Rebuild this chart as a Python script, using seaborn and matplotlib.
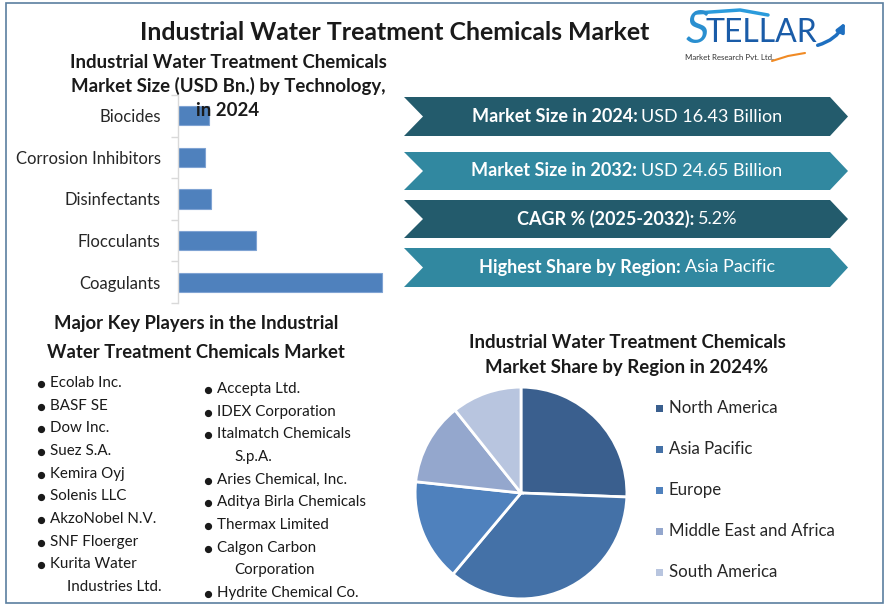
import numpy as np
import pandas as pd
import matplotlib
matplotlib.use('Agg')
import matplotlib.pyplot as plt
import seaborn as sns
from matplotlib.patches import Polygon, Rectangle

# canvas size in pixels
W, H = 889, 610

# ---- data ----
categories = ['Biocides', 'Corrosion Inhibitors', 'Disinfectants', 'Flocculants', 'Coagulants']
sizes_2024 = [1.37, 1.19, 1.46, 3.45, 8.97]   # USD Bn.

regions = ['North America', 'Asia Pacific', 'Europe', 'Middle East and Africa', 'South America']
region_share = [25.6, 35.5, 15.6, 12.6, 10.7]
region_colors = ['#3A5F8E', '#4471A7', '#4F81BD', '#94A7CD', '#B8C5DF']

banner_bold = ['Market Size in 2024:', 'Market Size in 2032:', 'CAGR % (2025-2032):', 'Highest Share by Region:']
banner_value = ['USD 16.43 Billion', 'USD 24.65 Billion', '5.2%', 'Asia Pacific']
banner_colors = ['#235B6C', '#3188A0', '#235B6C', '#3188A0']

players_left = ['Ecolab Inc.', 'BASF SE', 'Dow Inc.', 'Suez S.A.', 'Kemira Oyj', 'Solenis LLC',
                'AkzoNobel N.V.', 'SNF Floerger', 'Kurita Water\nIndustries Ltd.']
players_right = ['Accepta Ltd.', 'IDEX Corporation', 'Italmatch Chemicals\nS.p.A.', 'Aries Chemical, Inc.',
                 'Aditya Birla Chemicals', 'Thermax Limited', 'Calgon Carbon\nCorporation', 'Hydrite Chemical Co.']

sns.set_theme(style='white')
plt.rcParams['font.family'] = ['Lato', 'DejaVu Sans']

fig = plt.figure(figsize=(W / 100, H / 100), dpi=100)
fig.patch.set_facecolor('white')


def rect_px(left, top, right, bottom):
    return [left / W, 1 - bottom / H, (right - left) / W, (bottom - top) / H]


# ---- bar chart ----
ax_bar = fig.add_axes(rect_px(178, 95, 400, 303))
df_bar = pd.DataFrame({'Technology': categories, 'Size': sizes_2024})
sns.barplot(data=df_bar, x='Size', y='Technology', orient='h', color='#4F81BD', saturation=1,
            width=0.46, edgecolor='#7FA3D3', linewidth=0.8, ax=ax_bar)
ax_bar.set_xlim(0, sizes_2024[-1] * (400 - 178) / (383 - 179))
ax_bar.set_ylim(4.5, -0.5)
ax_bar.set_xlabel('')
ax_bar.set_ylabel('')
ax_bar.set_xticks([])
for s in ['top', 'right', 'bottom']:
    ax_bar.spines[s].set_visible(False)
ax_bar.spines['left'].set_color('#D9D9D9')
ax_bar.spines['left'].set_linewidth(1)
ax_bar.tick_params(axis='y', which='major', length=0, pad=12.5, labelsize=12, labelcolor='#262626')
ax_bar.set_yticks(np.arange(-0.5, 5, 1), minor=True)
ax_bar.tick_params(axis='y', which='minor', length=5, color='#D9D9D9', width=1, left=True, direction='out')
ax_bar.set_facecolor('none')

# ---- pie chart ----
ax_pie = fig.add_axes(rect_px(413, 385, 629, 601))
ax_pie.pie(region_share, colors=region_colors, startangle=90, counterclock=False,
           wedgeprops=dict(edgecolor='white', linewidth=2))
ax_pie.set_xlim(-1.02, 1.02)
ax_pie.set_ylim(-1.02, 1.02)
ax_pie.set_aspect('equal')

# ---- overlay in pixel coordinates ----
ov = fig.add_axes([0, 0, 1, 1], zorder=5)
ov.set_xlim(0, W)
ov.set_ylim(H, 0)
ov.axis('off')
ov.patch.set_alpha(0)

ov.add_patch(Rectangle((6, 3), 877, 600, fill=False, edgecolor='#5B7FA0', linewidth=1.2))

ov.text(395, 33, 'Industrial Water Treatment Chemicals Market', ha='center', va='center',
        fontsize=17.9, fontweight='bold', color='#1a1a1a')

for txt, y in zip(['Industrial Water Treatment Chemicals', 'Market Size (USD Bn.) by Technology,', 'in 2024'],
                  [62, 86, 110]):
    ov.text(228, y, txt, ha='center', va='center', fontsize=13.4, fontweight='bold', color='#1a1a1a')

for txt, y in zip(['Major Key Players in the Industrial', 'Water Treatment Chemicals Market'], [323, 352]):
    ov.text(196, y, txt, ha='center', va='center', fontsize=13.3, fontweight='bold', color='#1a1a1a')

for txt, y in zip(['Industrial Water Treatment Chemicals', 'Market Share by Region in 2024%'], [343, 367]):
    ov.text(627, y, txt, ha='center', va='center', fontsize=13.4, fontweight='bold', color='#1a1a1a')

# key players lists
step = 22.67
for items, xb, xt, y0 in [(players_left, 40.5, 50, 383), (players_right, 208, 217, 389)]:
    line = 0
    for item in items:
        parts = item.split('\n')
        y = y0 + line * step
        ov.plot(xb, y + 1, marker='o', markersize=4.2, color='#1a1a1a', linestyle='none')
        ov.text(xt, y, parts[0], ha='left', va='center', fontsize=10.9, color='#1a1a1a')
        line += 1
        for extra in parts[1:]:
            ov.text(xt + 17, y0 + line * step, extra, ha='left', va='center', fontsize=10.9, color='#1a1a1a')
            line += 1

# banners
banner_rows = [(97, 136), (152, 190), (200, 238), (248, 287)]
renderer = fig.canvas.get_renderer()
for (top, bot), col, b, v in zip(banner_rows, banner_colors, banner_bold, banner_value):
    mid = (top + bot) / 2
    ov.add_patch(Polygon([(404, top), (830, top), (848, mid), (830, bot), (404, bot), (423, mid)],
                         closed=True, facecolor=col, edgecolor='none'))
    tb = ov.text(0, mid, b, ha='left', va='center', fontsize=13, fontweight='bold', color='white')
    tv = ov.text(0, mid, v, ha='left', va='center', fontsize=13, color='white')
    wb = tb.get_window_extent(renderer).width
    wv = tv.get_window_extent(renderer).width
    gap = 4
    start = 627 - (wb + gap + wv) / 2
    tb.set_x(start)
    tv.set_x(start + wb + gap)

# pie legend
legend_y = [408, 449, 490, 531, 572]
for name, col, y in zip(regions, region_colors, legend_y):
    ov.add_patch(Rectangle((656, y - 3.5), 7, 7, facecolor=col, edgecolor='none'))
    ov.text(669, y, name, ha='left', va='center', fontsize=12.1, color='#262626')

# logo
ov.text(686, 30, 'S', ha='left', va='center', fontsize=33, fontstyle='italic', color='#2A8FD0')
ov.text(706, 33, 'TELLAR', ha='left', va='center', fontsize=23, color='#1A5CA8')
ov.annotate('', xy=(846, 20), xytext=(815, 46),
            arrowprops=dict(arrowstyle='-|>', color='#1E6FC0', lw=2.5, connectionstyle='arc3,rad=0.25'))
ov.plot([696, 740, 768], [13, 10, 15], color='#2A9BDC', lw=2.5, solid_capstyle='round')
ov.text(685, 57, 'Market Research Pvt. Ltd.', ha='left', va='center', fontsize=5.7, color='#333333')
ov.plot([772, 788, 805], [61, 56, 53], color='#F08A24', lw=1.5)

fig.savefig('out.png', dpi=100)
